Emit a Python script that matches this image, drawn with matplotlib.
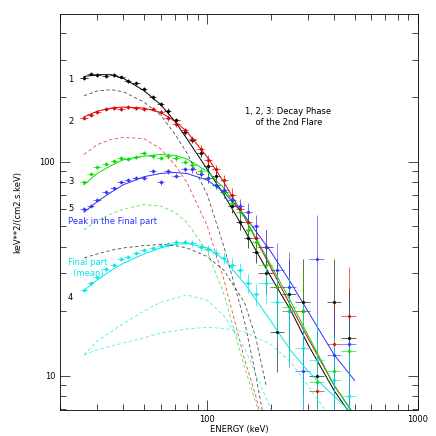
import numpy as np
import matplotlib
matplotlib.use("Agg")
import matplotlib.pyplot as plt
from matplotlib.ticker import NullFormatter, FixedLocator

# ── fit curves (total = solid, thermal part = dashed) ───────────────────────
E_fit = [26, 30, 35, 40, 50, 60, 70, 80, 100, 120, 150, 200, 250, 300, 400, 500]
fit_black = [250, 255, 255, 245, 215, 185, 155, 128, 92, 70, 48, 29, 20, 14, 8.5, 6.2]
fit_red   = [162, 172, 178, 180, 178, 170, 155, 138, 105, 80, 55, 32, 21, 15, 9, 6.5]
fit_green = [78, 88, 96, 102, 106, 108, 107, 103, 90, 75, 55, 33, 22, 15.5, 9, 6.5]
fit_blue  = [58, 65, 72, 78, 85, 88, 89, 88, 82, 72, 56, 38, 27, 20, 12.5, 9.5]
fit_cyan  = [25, 28, 31, 33.5, 37, 39.5, 41, 41.5, 39.5, 35, 27, 18, 13, 10.5, 8, 6.5]

E_th = [26, 30, 35, 40, 50, 60, 70, 80, 100, 120, 150, 170, 190]
th_black  = [203, 214, 217, 212, 190, 165, 135, 110, 70, 40, 18, 10, 5.5]
th_red    = [108, 120, 127, 130, 128, 115, 97, 80, 50, 28, 12, 8, 5]
th_green  = [48, 53, 57, 60, 63, 62, 58, 52, 38, 24, 11, 7.5, 5]
th_black4 = [35.5, 37, 38.5, 39.5, 40.5, 41, 40.5, 39.5, 36, 31, 22, 15, 9]

E_cy = [26, 30, 40, 50, 60, 80, 100, 120, 150, 200, 250, 300, 400]
th_cyan1 = [12.5, 14.5, 17.5, 20, 22, 23.8, 22.5, 19, 13.5, 7, 4, 3, 2]
th_cyan2 = [12.5, 13.2, 14.2, 15, 15.8, 16.5, 16.8, 16.6, 16, 14, 11.5, 9, 6]

# ── data points ─────────────────────────────────────────────────────────────
E_pts = [26, 28, 30, 33, 36, 39, 42, 46, 50, 55, 60, 65, 71, 78, 85, 93,
         101, 110, 120, 131, 143, 156, 170]
pts_black = [246, 258, 255, 252, 254, 250, 238, 232, 218, 200, 186, 173, 156,
             138, 126, 110, 95, 86, 72, 62, 52, 44, 38]
pts_red   = [160, 165, 170, 176, 178, 176, 180, 178, 176, 176, 170, 160, 150,
             140, 128, 115, 102, 92, 82, 70, 60, 52, 44]
pts_green = [80, 88, 94, 98, 101, 104, 103, 105, 110, 106, 104, 106, 104,
             100, 96, 90, 84, 78, 72, 64, 58, 48, 42]
pts_blue  = [60, 62, 66, 72, 75, 80, 82, 84, 84, 90, 80, 90, 86, 92, 92,
             88, 84, 78, 74, 66, 62, 58, 50]
pts_cyan  = [25, 27, 29, 31.5, 33, 35, 36, 37.5, 38.5, 39.5, 40.5, 41, 42,
             42, 41.5, 40, 39, 37.5, 35.5, 33, 31, 27, 24]
rel_err   = [0.02, 0.02, 0.02, 0.02, 0.02, 0.02, 0.02, 0.02, 0.02, 0.025, 0.025,
             0.03, 0.03, 0.03, 0.035, 0.04, 0.05, 0.05, 0.06, 0.07, 0.08, 0.1, 0.12]

E_hi = [190, 215, 245, 285, 330, 400, 470]
hi_black = [30, 16, 24, 22, 10, 22, 15]
hi_red   = [40, 26, 20, 20, 8.5, 14, 19]
hi_green = [33, 26, 21, 20, 9.3, 10.5, 13]
hi_blue  = [40, 31, 26, 10.5, 35, 12.5, 14]
hi_cyan  = [27, 22, 20, 13.5, 11.8, 9.5, 8]
hi_err   = [0.2, 0.35, 0.45, 0.6, 0.6, 0.6, 0.7]

SERIES = [
    ("black", pts_black, hi_black, fit_black),
    ("#e00000", pts_red, hi_red, fit_red),
    ("#00e000", pts_green, hi_green, fit_green),
    ("#3030ff", pts_blue, hi_blue, fit_blue),
    ("#00e8e8", pts_cyan, hi_cyan, fit_cyan),
]

plt.rcParams.update({"font.family": "DejaVu Sans", "font.size": 6})
fig = plt.figure(figsize=(4.36, 4.36), dpi=100)
ax = fig.add_axes([60 / 436, 26 / 436, 358 / 436, 396 / 436])

for c, lo, hi, fit in SERIES:
    ax.errorbar(E_pts, lo, xerr=[0.04 * e for e in E_pts],
                yerr=[r * v for r, v in zip(rel_err, lo)],
                fmt=".", color=c, ms=3, lw=0.6, alpha=0.8)
    ax.errorbar(E_hi, hi, xerr=[0.08 * e for e in E_hi],
                yerr=[r * v for r, v in zip(hi_err, hi)],
                fmt=".", color=c, ms=3, lw=0.6, alpha=0.7)
    ax.plot(E_fit, fit, color=c, lw=0.7)

for c, e, th in [("black", E_th, th_black), ("#e00000", E_th, th_red),
                 ("#00e000", E_th, th_green), ("black", E_th, th_black4),
                 ("#00e8e8", E_cy, th_cyan1), ("#00e8e8", E_cy, th_cyan2)]:
    ax.plot(e, th, color=c, lw=0.6, ls=(0, (4, 3)), alpha=0.7)

ax.set_xscale("log")
ax.set_yscale("log")
ax.set_xlim(20, 1000)
ax.set_ylim(6.9, 490)
ax.xaxis.set_major_locator(FixedLocator([100, 1000]))
ax.set_xticklabels(["100", "1000"])
ax.yaxis.set_major_locator(FixedLocator([10, 100]))
ax.set_yticklabels(["10", "100"])
ax.xaxis.set_minor_formatter(NullFormatter())
ax.yaxis.set_minor_formatter(NullFormatter())
ax.tick_params(which="both", direction="in", top=True, right=True, width=0.5)
ax.tick_params(which="major", length=7)
ax.tick_params(which="minor", length=4)
for s in ax.spines.values():
    s.set_linewidth(0.6)
ax.set_xlabel("ENERGY (keV)", labelpad=1)
ax.set_ylabel("keV**2/(cm2.s.keV)", labelpad=12)

tr = ax.transAxes
def tx(px, py, s, c="black"):
    ax.text((px - 60) / 358, (410 - py) / 396, s, color=c, transform=tr,
            va="center", ha="left", fontsize=6)

tx(68, 80, "1")
tx(68, 122, "2")
tx(68, 181, "3")
tx(68, 208, "5")
tx(68, 221, "Peak in the Final part", "#3030ff")
tx(68, 268, "Final part\n  (mean)", "#00e8e8")
tx(68, 297, "4")
tx(245, 117, "1, 2, 3: Decay Phase\n    of the 2nd Flare")

fig.savefig("out.png", dpi=100)
